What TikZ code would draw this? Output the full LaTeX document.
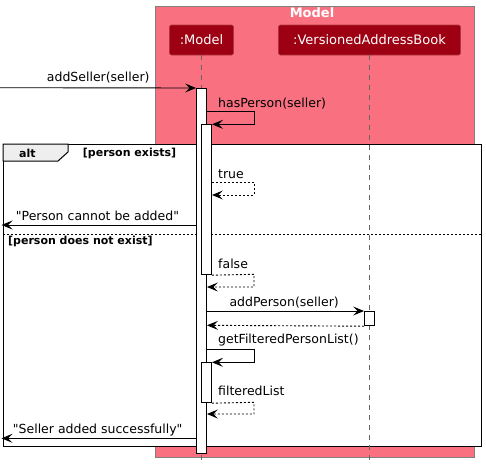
\documentclass[tikz,border=0pt]{standalone}
\usepackage{fontspec}
\setmainfont{DejaVu Sans}[Ligatures=TeXOff]
\usetikzlibrary{arrows.meta}
\definecolor{boxpink}{HTML}{F97181}
\definecolor{modelred}{HTML}{9D0012}
\definecolor{tabgray}{HTML}{EEEEEE}
\definecolor{lifegray}{HTML}{666666}
\begin{document}
\begin{tikzpicture}[x=1pt,y=-1pt,
  msg/.style={font=\fontsize{12.5}{14}\selectfont, anchor=base west, inner sep=0pt, text=black},
  guard/.style={font=\fontsize{11}{13}\selectfont\bfseries, anchor=base west, inner sep=0pt},
  part/.style={draw=modelred!80!white, fill=modelred, text=white, rounded corners=2pt,
    minimum height=30pt, inner sep=0pt, line width=0.6pt, font=\fontsize{13}{15}\selectfont},
  modelbox/.style={draw=gray, fill=boxpink, line width=0.8pt, inner sep=0pt, anchor=north west},
  boxtitle/.style={font=\fontsize{13}{15}\selectfont\bfseries, text=white, inner sep=0pt},
  altframe/.style={draw=black, fill=white, line width=1.4pt, inner sep=0pt, anchor=north west},
  tabshape/.style={draw=black, fill=tabgray, line width=1pt},
  life/.style={draw=lifegray, line width=0.7pt, dash pattern=on 5pt off 5pt},
  actbar/.style={draw=black, fill=white, line width=0.9pt, inner sep=0pt, minimum width=10pt, anchor=north},
  call/.style={line width=0.9pt, -{Stealth[length=11pt,width=9pt,inset=4.5pt]}},
  ret/.style={call, dash pattern=on 2pt off 2pt},
  sep/.style={line width=0.7pt, dash pattern=on 2pt off 2pt}
]
\useasboundingbox (0,0) rectangle (486,469);

% Model box
\node[modelbox, minimum width=319pt, minimum height=451pt] (box) at (155,6) {};
\node[boxtitle] (boxT) at (312,13) {Model};

% participants
\node[part, minimum width=64pt] (M) at (201.5,40) {:Model};
\node[part, minimum width=182pt] (V) at (369.5,40) {:VersionedAddressBook};

% alt frame
\node[altframe, minimum width=478pt, minimum height=302pt] (alt) at (3,144) {};
\draw[tabshape] (alt.north west) -- ++(65,0) -- ++(0,8) -- ++(-10,9) -- ++(-55,0) -- cycle;
\node[guard] (altT) at (19,157.5) {alt};
\node[guard] (g1) at (82.7,156.8) {[person exists]};
\coordinate (sepL) at (3,234);
\coordinate (sepR) at (481,234);
\draw[sep] (sepL) -- (sepR);
\node[guard] (g2) at (8,244) {[person does not exist]};

% lifelines
\coordinate (Mend) at (201.5,462);
\coordinate (Vend) at (369.5,462);
\draw[life] (M.south) -- (Mend);
\draw[life] (V.south) -- (Vend);

% activations
\node[actbar, minimum height=364.7pt] (A1) at (201.5,88) {};
\node[actbar, minimum height=150pt] (A2) at (206.5,124.3) {};
\node[actbar, minimum height=14.3pt] (B1) at (369.5,311) {};
\node[actbar, minimum height=40pt] (A3) at (206.5,362.3) {};

% found message
\coordinate (src) at (0,87.7);
\draw[call] (src) -- (A1.north west);
\node[msg] (l1) at (46.7,81.2) {addSeller(seller)};

% hasPerson self call
\coordinate (hp1) at (A1.east |- 0,111.7);
\draw[call] (hp1) -- (254,111.7) -- (254,124.3) -- (A2.north east);
\node[msg] (l2) at (218,107.2) {hasPerson(seller)};

% true
\coordinate (t1) at (A2.east |- 0,182);
\coordinate (t2) at (A2.east |- 0,195);
\draw[ret] (t1) -- (254,182) -- (254,195) -- (t2);
\node[msg] (l3) at (218,178.2) {true};

% Person cannot be added
\coordinate (pc1) at (A1.west |- 0,225);
\coordinate (pc2) at (1.5,225);
\draw[call] (pc1) -- (pc2);
\node[msg] (l4) at (15.7,220.2) {"Person cannot be added"};

% false
\coordinate (f2) at (A1.east |- 0,287);
\draw[ret] (A2.south east) -- (254,274.3) -- (254,287) -- (f2);
\node[msg] (l5) at (218,268.8) {false};

% addPerson
\coordinate (ap1) at (A1.east |- 0,311);
\draw[call] (ap1) -- (B1.north west);
\node[msg] (l6) at (229.3,306.2) {addPerson(seller)};
\coordinate (ap2) at (A1.east |- 0,325.3);
\draw[ret] (B1.south west) -- (ap2);

% getFilteredPersonList
\coordinate (gf1) at (A1.east |- 0,349.3);
\draw[call] (gf1) -- (254,349.3) -- (254,362.3) -- (A3.north east);
\node[msg] (l7) at (218,343.8) {getFilteredPersonList()};

% filteredList
\coordinate (fl2) at (A1.east |- 0,414);
\draw[ret] (A3.south east) -- (254,402.3) -- (254,414) -- (fl2);
\node[msg] (l8) at (218,395.5) {filteredList};

% Seller added successfully
\coordinate (sa1) at (A1.west |- 0,438.3);
\coordinate (sa2) at (1.5,438.3);
\draw[call] (sa1) -- (sa2);
\node[msg] (l9) at (12.7,433.5) {"Seller added successfully"};
\end{tikzpicture}
\end{document}
